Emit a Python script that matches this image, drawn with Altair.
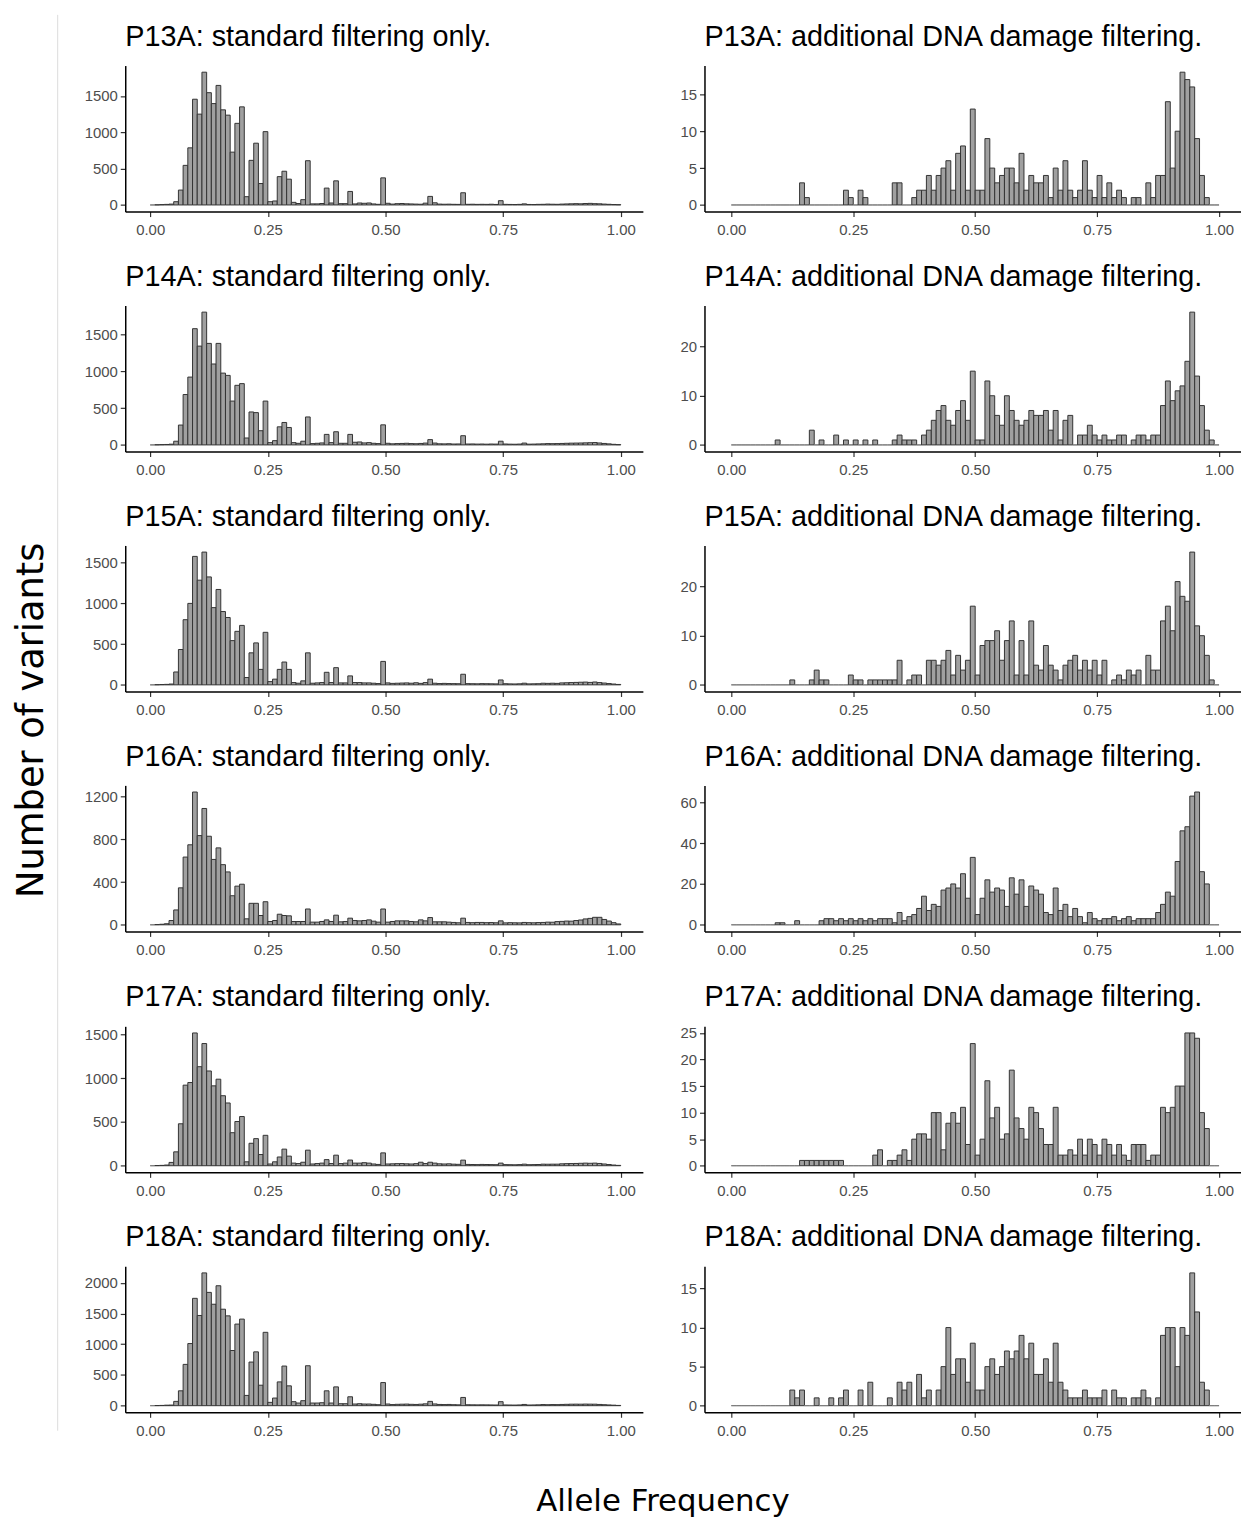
import altair as alt
import pandas as pd

# bin edges of the histograms (100 bins of width 0.01)
edges = [round(i * 0.01, 2) for i in range(101)]

samples = ["P13A", "P14A", "P15A", "P16A", "P17A", "P18A"]

std13 = [0, 2, 5, 8, 12, 45, 205, 545, 786, 1455,
         1250, 1827, 1545, 1395, 1645, 1309, 1236, 727, 1123, 1350,
         114, 614, 850, 295, 1009, 45, 55, 390, 464, 355,
         36, 20, 73, 609, 15, 15, 20, 232, 27, 332,
         18, 18, 186, 14, 27, 23, 27, 14, 9, 373,
         23, 12, 18, 20, 16, 14, 12, 10, 25, 118,
         30, 12, 10, 11, 9, 8, 168, 9, 10, 8,
         9, 8, 10, 7, 59, 8, 7, 6, 8, 15,
         7, 6, 8, 9, 12, 10, 9, 12, 14, 16,
         18, 16, 20, 22, 18, 16, 12, 9, 6, 4]
add13 = [0, 0, 0, 0, 0, 0, 0, 0, 0, 0,
         0, 0, 0, 0, 3, 1, 0, 0, 0, 0,
         0, 0, 0, 2, 1, 0, 2, 1, 0, 0,
         0, 0, 0, 3, 3, 0, 0, 1, 2, 2,
         4, 2, 4, 5, 6, 2, 7, 8, 2, 13,
         2, 2, 9, 5, 3, 4, 5, 5, 3, 7,
         2, 4, 3, 3, 4, 1, 5, 2, 6, 2,
         1, 2, 6, 2, 1, 4, 1, 3, 1, 2,
         1, 0, 1, 1, 0, 3, 1, 4, 4, 14,
         5, 10, 18, 17, 16, 9, 4, 1, 0, 0]
std14 = [0, 2, 4, 6, 10, 50, 270, 685, 922, 1580,
         1343, 1805, 1380, 1100, 1380, 976, 945, 596, 810, 833,
         94, 448, 439, 193, 596, 31, 58, 246, 305, 237,
         31, 22, 50, 380, 18, 22, 27, 143, 31, 179,
         22, 22, 143, 36, 40, 27, 31, 22, 18, 273,
         22, 15, 18, 20, 22, 18, 16, 20, 25, 72,
         25, 15, 14, 16, 12, 13, 125, 12, 13, 11,
         12, 10, 12, 11, 50, 12, 10, 9, 11, 25,
         10, 11, 13, 15, 18, 17, 18, 20, 22, 24,
         25, 26, 28, 30, 32, 26, 20, 14, 8, 4]
add14 = [0, 0, 0, 0, 0, 0, 0, 0, 0, 1,
         0, 0, 0, 0, 0, 0, 3, 0, 1, 0,
         0, 2, 0, 1, 0, 1, 0, 1, 0, 1,
         0, 0, 0, 1, 2, 1, 1, 1, 0, 2,
         3, 5, 7, 8, 5, 4, 7, 9, 5, 15,
         1, 1, 13, 10, 6, 4, 10, 7, 5, 4,
         5, 7, 6, 6, 7, 3, 7, 1, 5, 6,
         0, 2, 2, 4, 2, 1, 2, 1, 1, 2,
         2, 0, 1, 2, 2, 1, 2, 2, 8, 13,
         9, 11, 12, 17, 27, 14, 8, 3, 1, 0]
std15 = [0, 2, 4, 6, 10, 158, 434, 800, 1000, 1577,
         1285, 1630, 1325, 948, 1171, 900, 827, 543, 657, 730,
         90, 393, 515, 190, 645, 40, 70, 190, 280, 190,
         28, 20, 49, 393, 20, 24, 28, 154, 28, 211,
         24, 24, 110, 28, 28, 24, 24, 20, 16, 288,
         24, 18, 20, 22, 24, 20, 26, 18, 28, 70,
         20, 16, 18, 16, 15, 14, 130, 15, 14, 13,
         15, 14, 13, 12, 60, 14, 12, 11, 13, 20,
         12, 13, 14, 20, 18, 20, 18, 24, 26, 28,
         30, 32, 34, 30, 35, 28, 22, 16, 10, 5]
add15 = [0, 0, 0, 0, 0, 0, 0, 0, 0, 0,
         0, 0, 1, 0, 0, 0, 1, 3, 1, 1,
         0, 0, 0, 0, 2, 1, 1, 0, 1, 1,
         1, 1, 1, 1, 5, 0, 1, 2, 2, 0,
         5, 5, 4, 5, 7, 2, 6, 3, 5, 16,
         2, 8, 9, 9, 11, 5, 9, 13, 2, 9,
         2, 13, 4, 3, 8, 4, 3, 1, 4, 5,
         6, 3, 5, 3, 5, 2, 5, 0, 1, 2,
         1, 3, 2, 3, 0, 6, 3, 3, 13, 16,
         11, 21, 18, 17, 27, 12, 10, 6, 1, 0]
std16 = [0, 2, 5, 10, 40, 139, 346, 634, 749, 1243,
         835, 1089, 829, 612, 720, 563, 495, 272, 362, 380,
         56, 201, 201, 87, 216, 31, 40, 99, 87, 84,
         31, 31, 31, 148, 25, 25, 31, 46, 31, 90,
         28, 31, 62, 40, 37, 40, 46, 34, 25, 148,
         25, 31, 37, 37, 37, 31, 28, 46, 37, 68,
         28, 28, 28, 25, 22, 19, 62, 22, 20, 22,
         22, 20, 21, 19, 37, 18, 20, 19, 18, 22,
         20, 19, 21, 22, 25, 24, 30, 32, 35, 34,
         40, 45, 55, 60, 70, 70, 50, 35, 20, 8]
add16 = [0, 0, 0, 0, 0, 0, 0, 0, 0, 1,
         1, 0, 0, 2, 0, 0, 0, 0, 2, 3,
         3, 2, 3, 2, 3, 2, 3, 2, 3, 2,
         3, 3, 3, 1, 6, 2, 4, 5, 8, 14,
         7, 10, 9, 17, 18, 20, 18, 25, 13, 33,
         5, 13, 22, 16, 18, 17, 9, 23, 15, 22,
         9, 19, 17, 15, 6, 5, 18, 7, 10, 4,
         8, 4, 1, 6, 3, 2, 3, 3, 4, 2,
         3, 4, 2, 3, 3, 3, 3, 6, 10, 16,
         14, 31, 46, 48, 63, 65, 26, 20, 0, 0]
std17 = [0, 2, 4, 8, 38, 159, 480, 922, 952, 1519,
         1133, 1398, 1084, 914, 990, 801, 718, 378, 506, 563,
         45, 257, 310, 128, 348, 20, 45, 100, 190, 110,
         30, 25, 40, 178, 20, 25, 30, 70, 25, 121,
         25, 30, 65, 30, 30, 35, 30, 20, 15, 147,
         20, 22, 24, 25, 22, 20, 24, 40, 25, 40,
         30, 22, 20, 22, 18, 16, 64, 15, 14, 13,
         15, 14, 13, 12, 30, 13, 12, 11, 13, 18,
         12, 13, 14, 18, 17, 18, 18, 22, 24, 25,
         26, 28, 30, 28, 30, 26, 20, 14, 8, 4]
add17 = [0, 0, 0, 0, 0, 0, 0, 0, 0, 0,
         0, 0, 0, 0, 1, 1, 1, 1, 1, 1,
         1, 1, 1, 0, 0, 0, 0, 0, 0, 2,
         3, 0, 1, 1, 2, 3, 1, 5, 6, 6,
         5, 10, 10, 3, 8, 10, 8, 11, 4, 23,
         2, 5, 16, 9, 11, 5, 6, 18, 9, 7,
         5, 11, 10, 7, 4, 4, 11, 2, 2, 3,
         2, 5, 2, 5, 4, 2, 5, 4, 2, 4,
         2, 1, 4, 4, 4, 1, 2, 2, 11, 10,
         11, 15, 15, 25, 25, 24, 10, 7, 0, 0]
std18 = [0, 2, 4, 8, 10, 70, 242, 672, 1011, 1747,
         1468, 2161, 1844, 1651, 1952, 1570, 1462, 898, 1328, 1409,
         167, 710, 876, 333, 1194, 54, 124, 387, 645, 323,
         65, 43, 81, 650, 43, 43, 48, 242, 43, 306,
         32, 32, 145, 27, 32, 27, 27, 22, 16, 376,
         27, 18, 22, 24, 26, 22, 20, 24, 30, 70,
         28, 20, 18, 20, 16, 14, 134, 15, 14, 13,
         14, 13, 12, 11, 65, 12, 11, 10, 12, 20,
         11, 12, 14, 18, 16, 18, 17, 20, 22, 24,
         25, 24, 26, 25, 24, 20, 16, 12, 8, 4]
add18 = [0, 0, 0, 0, 0, 0, 0, 0, 0, 0,
         0, 0, 2, 1, 2, 0, 0, 1, 0, 0,
         1, 0, 1, 2, 0, 0, 2, 0, 3, 0,
         0, 0, 1, 0, 3, 2, 3, 0, 4, 1,
         2, 0, 2, 5, 10, 4, 6, 6, 3, 8,
         2, 2, 5, 6, 4, 5, 7, 6, 7, 9,
         6, 8, 4, 4, 6, 3, 8, 3, 2, 1,
         1, 1, 2, 1, 1, 1, 2, 0, 2, 1,
         1, 0, 1, 1, 2, 1, 0, 1, 9, 10,
         10, 5, 10, 9, 17, 12, 3, 2, 0, 0]

std_counts = [std13, std14, std15, std16, std17, std18]
add_counts = [add13, add14, add15, add16, add17, add18]

std_ticks = [[0, 500, 1000, 1500], [0, 500, 1000, 1500], [0, 500, 1000, 1500],
             [0, 400, 800, 1200], [0, 500, 1000, 1500], [0, 500, 1000, 1500, 2000]]
add_ticks = [[0, 5, 10, 15], [0, 10, 20], [0, 10, 20],
             [0, 20, 40, 60], [0, 5, 10, 15, 20, 25], [0, 5, 10, 15]]
x_ticks = [0, 0.25, 0.5, 0.75, 1.0]

TITLE_FONT = "Liberation Sans"


def panel(title, counts, ticks, width, xdomain):
    df = pd.DataFrame({"lo": edges[:-1], "hi": edges[1:], "n": counts,
                       "base": [0] * len(counts)})
    top = max(counts)
    return (
        alt.Chart(df, title=alt.TitleParams(
            title, anchor="start", frame="group", fontSize=29, font=TITLE_FONT,
            fontWeight="normal", color="black", offset=14))
        .mark_rect(fill="#a0a0a0", strokeWidth=1)
        .encode(
            x=alt.X("lo:Q", scale=alt.Scale(domain=xdomain, nice=False, zero=False),
                    axis=alt.Axis(values=x_ticks, format=".2f", title=None, labelPadding=6)),
            x2="hi:Q",
            y=alt.Y("n:Q", scale=alt.Scale(domain=[-0.05 * top, 1.05 * top], nice=False, zero=False),
                    axis=alt.Axis(values=ticks, format="d", title=None, minExtent=40)),
            y2="base:Q",
            stroke=alt.condition("datum.n == 0", alt.value("#7a7a7a"), alt.value("#333333")),
        )
        .properties(width=width, height=147)
    )


rows = []
for s, sc, ac, st, at in zip(samples, std_counts, add_counts, std_ticks, add_ticks):
    left = panel(f"{s}: standard filtering only.", sc, st, 521, [-0.053, 1.047])
    right = panel(f"{s}: additional DNA damage filtering.", ac, at, 540, [-0.055, 1.045])
    rows.append(alt.hconcat(left, right, spacing=22))

panels = alt.vconcat(*rows, spacing=25.5)

# faint vertical separator line at the left of the panel block
sep = (
    alt.Chart(pd.DataFrame({"k": [0]}))
    .mark_rule(color="#dcdcdc", strokeWidth=1)
    .encode(x=alt.value(0), y=alt.value(-51), y2=alt.value(1374))
    .properties(width=1, height=10)
)

grid = alt.hconcat(sep, panels, spacing=25).properties(
    title=alt.TitleParams("Number of variants", orient="left", anchor="middle",
                          fontSize=37, font="DejaVu Sans", fontWeight="normal",
                          color="black", offset=6, dx=6)
)

chart = (
    alt.vconcat(grid)
    .properties(
        title=alt.TitleParams("Allele Frequency", orient="bottom", anchor="middle",
                              fontSize=31, font="DejaVu Sans", fontWeight="normal",
                              color="black", offset=49, dx=36),
        padding={"top": 1, "left": 5, "right": 0, "bottom": 5},
    )
    .configure_view(stroke=None)
    .configure_axis(
        grid=False, domainColor="black", domainWidth=1.5, tickColor="#333333",
        tickWidth=1.2, tickSize=5, labelColor="#4D4D4D", labelFontSize=15,
        labelFont="Liberation Sans", labelPadding=3,
    )
)

chart.save("out.html", embed_options={"renderer": "svg", "actions": False})
